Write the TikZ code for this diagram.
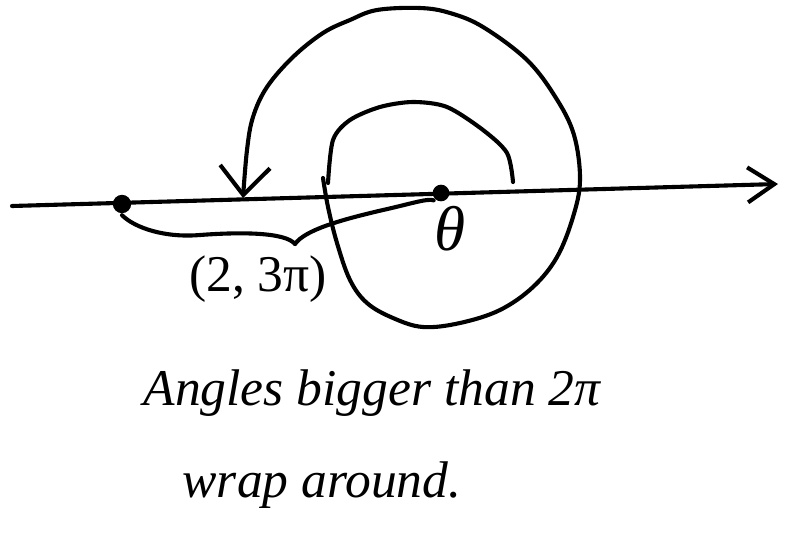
\documentclass[tikz,border=0pt]{standalone}
\usepackage{fontspec}
\setmainfont{Liberation Serif}
\usepackage{tikz}
\usetikzlibrary{arrows.meta}

\begin{document}
\begin{tikzpicture}[x=0.03cm,y=-0.03cm,line width=3.5pt,line cap=round,line join=round]
\useasboundingbox (0,0) rectangle (791,557);
% axis and its two points
\coordinate (ax_l) at (12,206);
\coordinate (ax_r) at (778,184);
\draw[-{Straight Barb[length=0.8cm,width=1.05cm]}] (ax_l)--(ax_r);
\node[circle,fill,inner sep=0pt,minimum size=0.55cm] (pt) at (122,204) {};
\node[circle,fill,inner sep=0pt,minimum size=0.5cm] (pole) at (441,193) {};
\node[font=\fontsize{54}{60}\selectfont\itshape] (lbl_pole) at (450,229) {θ};
% brace under the radius
\coordinate (br_tip) at (295,244);
\draw (pt.south) .. controls (135,228) and (165,238) .. (200,235) .. controls (240,232) and (285,232) .. (br_tip);
\draw (br_tip) .. controls (305,230) and (340,220) .. (383,210) .. controls (410,204) and (428,198) .. (pole.south west);
\node[font=\fontsize{44}{50}\selectfont] (lbl_pt) at (258,279) {(2, 3π)};
% inner turn
\draw plot[smooth] coordinates {(513,182) (507,153) (483,130) (447,107) (413,102) (380,107) (350,120) (333,140) (328,183)};
% outer turn, ending on the axis
\draw[-{Straight Barb[length=0.85cm,width=1.5cm]}] plot[smooth,tension=0.6] coordinates {(323,178) (328,207) (337,243) (350,280) (367,303) (393,318) (423,327) (460,323) (500,310) (533,287) (557,257) (573,217) (580,180) (574,135) (556,98) (527,60) (483,27) (450,13) (420,8) (377,10) (350,20) (323,33) (293,57) (267,87) (253,117) (247,150) (243,198)};
% caption
\node[font=\fontsize{44}{50}\selectfont\itshape] (cap1) at (372,393) {Angles bigger than 2π};
\node[font=\fontsize{44}{50}\selectfont\itshape] (cap2) at (322,485) {wrap around.};
\end{tikzpicture}
\end{document}
